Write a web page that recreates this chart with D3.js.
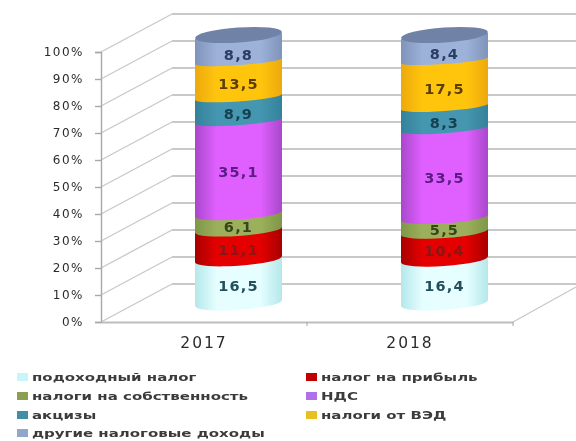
<!DOCTYPE html>
<html>
<head>
<meta charset="utf-8">
<script src="https://cdn.jsdelivr.net/npm/d3@7"></script>
<style>
html, body { margin: 0; background: #fff; }
text { font-family: "DejaVu Sans", sans-serif; }
</style>
</head>
<body>
<svg id="chart" width="576" height="441"></svg>
<script>
// values
let years = ['2017', '2018'];
let seriesNames = ['подоходный налог', 'налог на прибыль', 'налоги на собственность', 'НДС', 'акцизы', 'налоги от ВЭД', 'другие налоговые доходы'];
let incomeTax = [16.5, 16.4];
let profitTax = [11.1, 10.4];
let propertyTax = [6.1, 5.5];
let vat = [35.1, 33.5];
let excise = [8.9, 8.3];
let tradeTax = [13.5, 17.5];
let otherTax = [8.8, 8.4];
let ticks = [0, 10, 20, 30, 40, 50, 60, 70, 80, 90, 100];

let allSeries = [incomeTax, profitTax, propertyTax, vat, excise, tradeTax, otherTax];
let rows = years.map((y, i) => {
    let r = { year: y };
    seriesNames.forEach((n, k) => { r[n] = allSeries[k][i]; });
    return r;
});

// side colour, middle colour, label colour
let sideColor = ['#b4e8ea', '#a80000', '#7f9649', '#a848cc', '#35819a', '#eda90c', '#8094bb'];
let midColor = ['#e6feff', '#e40000', '#9cb05c', '#e060ff', '#4596b0', '#ffc50e', '#9db2d8'];
let labelColor = ['#24505c', '#8a1414', '#34441a', '#5a1c82', '#173f50', '#5a3e06', '#2a3c62'];
let legendColor = ['#c8f6f8', '#c00000', '#8aa050', '#b070e8', '#3f8ea8', '#e8c020', '#90a6cc'];

let svg = d3.select('#chart');
let defs = svg.append('defs');
defs.append('filter').attr('id', 'soft')
    .attr('x', 0).attr('y', 0).attr('width', 1).attr('height', 1)
    .append('feGaussianBlur').attr('stdDeviation', 0.7);

let root = svg.append('g').attr('filter', 'url(#soft)');
root.append('rect').attr('width', 576).attr('height', 441).attr('fill', '#fff');

// three scales: front edge of the floor, back wall, cylinder axis
let yFront = d3.scaleLinear().domain([0, 100]).range([322, 52]);
let yBack = d3.scaleLinear().domain([0, 100]).range([284, 14]);
let yCyl = d3.scaleLinear().domain([0, 100]).range([303, 38]);
let x = d3.scaleBand().domain(years).range([101, 513]);
let depthX = 71;
let grid = '#c9c9c9';

// back wall and left wall lines
root.append('g').selectAll('line.back')
    .data(ticks)
    .enter()
    .append('line')
    .attr('class', 'back')
    .attr('x1', 101 + depthX).attr('x2', 576)
    .attr('y1', d => yBack(d)).attr('y2', d => yBack(d))
    .attr('stroke', grid).attr('stroke-width', 1.8);

root.append('g').selectAll('line.side')
    .data(ticks)
    .enter()
    .append('line')
    .attr('class', 'side')
    .attr('x1', 101).attr('x2', 101 + depthX)
    .attr('y1', d => yFront(d)).attr('y2', d => yBack(d))
    .attr('stroke', grid).attr('stroke-width', 1.4);

// right edge of the floor
root.append('line')
    .attr('x1', x.range()[1]).attr('y1', yFront(0))
    .attr('x2', 576).attr('y2', yBack(0) + 3)
    .attr('stroke', grid).attr('stroke-width', 1.4);

// axes
let yAxis = d3.axisLeft(yFront).tickValues(ticks).tickFormat(d => d + '%').tickSize(6).tickPadding(11);
let yG = root.append('g').attr('transform', 'translate(101,0)').call(yAxis);
let xAxis = d3.axisBottom(x).tickSize(0).tickPadding(15);
let xG = root.append('g').attr('transform', 'translate(0,' + yFront(0) + ')').call(xAxis);
yG.selectAll('path,line').attr('stroke', '#a8a8a8').attr('stroke-width', 1.4);
xG.select('path').attr('stroke', '#bdbdbd').attr('stroke-width', 2.2);
yG.selectAll('text').attr('font-size', 12).attr('letter-spacing', 1.5).attr('fill', '#2c2c2c');
xG.selectAll('text').attr('font-size', 15.5).attr('fill', '#2c2c2c').attr('letter-spacing', 2);
xG.selectAll('line.cat').data(years)
    .enter()
    .append('line')
    .attr('class', 'cat')
    .attr('x1', d => x(d) + x.step())
    .attr('x2', d => x(d) + x.step())
    .attr('y1', 0).attr('y2', 4)
    .attr('stroke', '#a8a8a8');

// cylinders
let rx = 43.5, tilt = 3;
let cx = d => x(d) + x.bandwidth() / 2 + 34.5;
let ryAt = d3.scaleLinear().domain([0, 100]).range([7, 3.5]); // arcs get flatter going up

seriesNames.forEach((n, i) => {
    let g = defs.append('linearGradient').attr('id', 'grad' + i);
    g.append('stop').attr('offset', '0%').attr('stop-color', sideColor[i]);
    g.append('stop').attr('offset', '25%').attr('stop-color', midColor[i]);
    g.append('stop').attr('offset', '75%').attr('stop-color', midColor[i]);
    g.append('stop').attr('offset', '100%').attr('stop-color', sideColor[i]);
});

let stack = d3.stack().keys(seriesNames);
let layers = stack(rows);

// body of a segment: straight sides, front arc at the lower edge
function segPath(year, v0, v1) {
    let c = cx(year), t = yCyl(v1) - 2, b = yCyl(v0);
    let r = ryAt(v0);
    return 'M' + (c - rx) + ' ' + (t + tilt)
        + ' L' + (c - rx) + ' ' + (b + tilt)
        + ' A' + rx + ' ' + r + ' -4 0 0 ' + (c + rx) + ' ' + (b - tilt)
        + ' L' + (c + rx) + ' ' + (t - tilt) + ' Z';
}

let layerG = root.append('g').selectAll('g.layer')
    .data(layers)
    .enter()
    .append('g')
    .attr('class', 'layer');

// upper layers are drawn later so their front arc covers the one below
layerG.selectAll('path')
    .data((d, i) => d.map(p => ({ p: p, i: i })))
    .enter()
    .append('path')
    .attr('d', d => segPath(d.p.data.year, d.p[0], d.p[1]))
    .attr('fill', d => 'url(#grad' + d.i + ')');

root.append('g').selectAll('ellipse.cap')
    .data(years)
    .enter()
    .append('ellipse')
    .attr('class', 'cap')
    .attr('rx', rx).attr('ry', 7.5)
    .attr('transform', d => 'translate(' + cx(d) + ',' + (yCyl(100) - 3) + ') rotate(-4)')
    .attr('fill', '#6f82a6');

// value labels
let labelG = root.append('g');
layers.forEach((layer, i) => {
    labelG.selectAll('text.s' + i)
        .data(layer)
        .enter()
        .append('text')
        .attr('class', 's' + i)
        .attr('x', d => cx(d.data.year))
        .attr('y', d => yCyl((d[0] + d[1]) / 2) + 5)
        .attr('dy', '0.36em')
        .attr('text-anchor', 'middle')
        .attr('font-size', 14.5)
        .attr('font-weight', 'bold')
        .attr('letter-spacing', 1.2)
        .attr('fill', labelColor[i])
        .text((d, k) => String(allSeries[i][k]).replace('.', ','));
});

// legend
let legendCol = [20, 309];
let legendRow = [377, 396, 415, 433];
let legend = root.append('g').selectAll('g.item')
    .data(seriesNames)
    .enter()
    .append('g')
    .attr('class', 'item')
    .attr('transform', (d, i) => {
        let col = i == 6 ? 0 : i % 2;
        let row = Math.floor(i / 2);
        return 'translate(' + legendCol[col] + ',' + legendRow[row] + ')';
    });
legend.append('rect')
    .attr('x', -3).attr('y', -4)
    .attr('width', 11).attr('height', 8)
    .attr('fill', (d, i) => legendColor[i]);
legend.append('text')
    .attr('transform', 'translate(12,0) scale(1.43,1)')
    .attr('dy', '0.36em')
    .attr('font-size', 10.5)
    .attr('font-weight', 'bold')
    .attr('fill', '#3a3a3a')
    .text(d => d);
</script>
</body>
</html>
